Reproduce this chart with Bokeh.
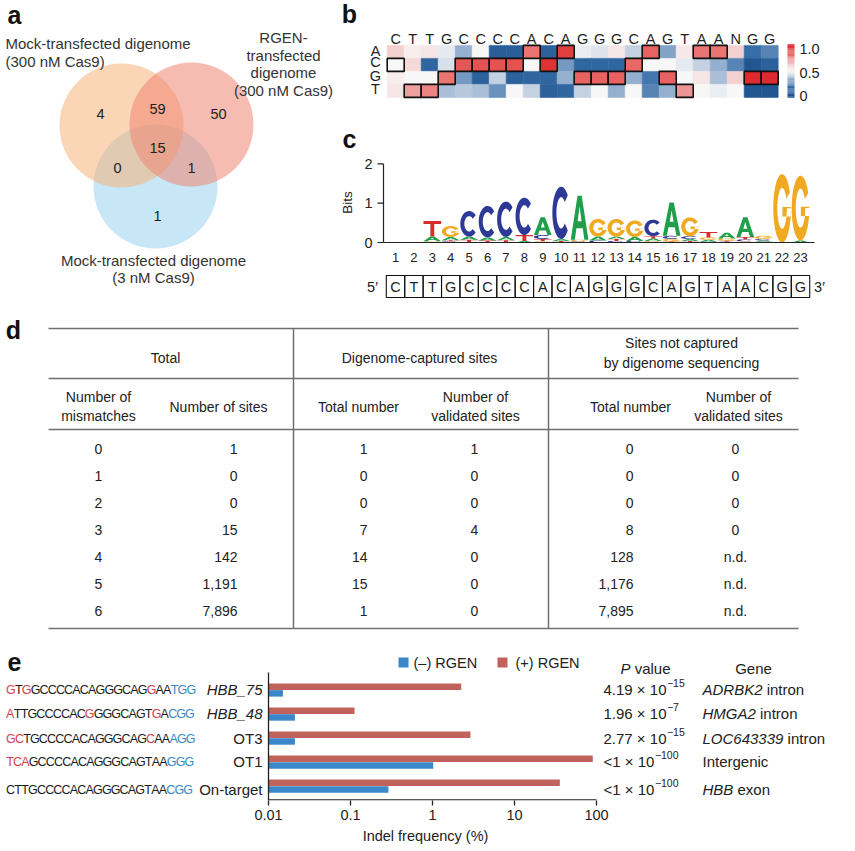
import numpy as np
from bokeh.plotting import figure
from bokeh.models import (Range1d, LogScale, LogAxis, FixedTicker,
                          CustomJSTickFormatter, LinearColorMapper, ColumnDataSource)
from bokeh.core.properties import value
from bokeh.transform import transform
from bokeh.embed import file_html
from bokeh.resources import INLINE

# ======================= DATA =======================
# panel a: Venn counts
venn_counts = [4, 59, 50, 15, 0, 1, 1]
venn_label_mock300 = ["Mock-transfected digenome", "(300 nM Cas9)"]
venn_label_rgen = ["RGEN-", "transfected", "digenome", "(300 nM Cas9)"]
venn_label_mock3 = ["Mock-transfected digenome", "(3 nM Cas9)"]

# panel b: heat map (fraction per base)
hm_cols = list("CTTGCCCCACAGGGCAGTAANGG")
hm_rows = ["A", "C", "G", "T"]
hm_A = [0.60, 0.53, 0.55, 0.47, 0.35, 0.50, 0.10, 0.10, 0.78, 0.12, 0.92, 0.48,
        0.46, 0.54, 0.42, 0.82, 0.32, 0.54, 0.78, 0.78, 0.60, 0.20, 0.25]
hm_C = [0.50, 0.58, 0.15, 0.45, 0.85, 0.86, 0.86, 0.86, 0.50, 0.95, 0.30, 0.15,
        0.15, 0.15, 0.80, 0.50, 0.50, 0.47, 0.42, 0.35, 0.25, 0.05, 0.12]
hm_G = [0.53, 0.50, 0.50, 0.78, 0.30, 0.12, 0.42, 0.12, 0.15, 0.15, 0.35, 0.82,
        0.82, 0.82, 0.35, 0.22, 0.82, 0.50, 0.55, 0.38, 0.60, 0.97, 0.97]
hm_T = [0.55, 0.70, 0.75, 0.38, 0.40, 0.38, 0.28, 0.50, 0.42, 0.12, 0.15, 0.42,
        0.50, 0.35, 0.50, 0.25, 0.35, 0.72, 0.50, 0.48, 0.50, 0.05, 0.05]
cb_labels = ["1.0", "0.5", "0"]

# panel c: sequence logo (bits per base)
logo_pos = list(range(1, 24))
bits_A = [0, 0, 0.12, 0.08, 0.08, 0.08, 0.08, 0.04, 0.45, 0.05, 1.12, 0.10,
          0.06, 0.10, 0.06, 0.85, 0.05, 0.05, 0.15, 0.50, 0.03, 0, 0.05]
bits_C = [0, 0, 0, 0.03, 0.65, 0.80, 0.90, 0.95, 0.10, 1.33, 0.03, 0.05,
          0.04, 0.04, 0.42, 0.08, 0.07, 0.02, 0.02, 0.05, 0.04, 0, 0]
bits_G = [0, 0, 0.03, 0.28, 0, 0, 0, 0, 0.03, 0, 0.04, 0.45,
          0.45, 0.42, 0.04, 0.06, 0.48, 0.06, 0.05, 0.03, 0.08, 1.74, 1.65]
bits_T = [0, 0, 0.40, 0.03, 0.07, 0.05, 0.06, 0.15, 0.06, 0.04, 0, 0,
          0.05, 0, 0.06, 0.03, 0.04, 0.14, 0.03, 0.06, 0.02, 0, 0]
target_seq = list("CTTGCCCCACAGGGCAGTAACGG")

# panel d: table
tbl_mismatch = ["0", "1", "2", "3", "4", "5", "6"]
tbl_sites = ["1", "0", "0", "15", "142", "1,191", "7,896"]
tbl_cap_total = ["1", "0", "0", "7", "14", "15", "1"]
tbl_cap_valid = ["1", "0", "0", "4", "0", "0", "0"]
tbl_nc_total = ["0", "0", "0", "8", "128", "1,176", "7,895"]
tbl_nc_valid = ["0", "0", "0", "0", "n.d.", "n.d.", "n.d."]

# panel e: indel frequencies
e_seqs = ["GTGGCCCCACAGGGCAGGAATGG", "ATTGCCCCACGGGGCAGTGACGG",
          "GCTGCCCCACAGGGCAGCAAAGG", "TCAGCCCCACAGGGCAGTAAGGG",
          "CTTGCCCCACAGGGCAGTAACGG"]
e_names = ["HBB_75", "HBB_48", "OT3", "OT1", "On-target"]
e_name_italic = [True, True, False, False, False]
indel_minus = [0.015, 0.021, 0.021, 1.02, 0.29]
indel_plus = [2.24, 0.112, 2.9, 90.0, 35.7]
pv_mant = ["4.19 \u00d7 10", "1.96 \u00d7 10", "2.77 \u00d7 10", "<1 \u00d7 10", "<1 \u00d7 10"]
pv_exp = ["\u221215", "\u22127", "\u221215", "\u2212100", "\u2212100"]
gene_it = ["ADRBK2", "HMGA2", "LOC643339", "", "HBB"]
gene_rest = ["intron", "intron", "intron", "Intergenic", "exon"]
e_ticks = [0.01, 0.1, 1, 10, 100]

# ======================= LAYOUT =======================
FONT = "Liberation Sans"
W, H = 850, 849
FL, FR, FT, FB = 0, W, 0, 800          # frame edges in page pixels

p = figure(width=W, height=H, output_backend="svg", toolbar_location=None,
           x_range=Range1d(FL, FR), y_range=Range1d(FB, FT),
           x_axis_type=None, y_axis_type=None,
           min_border_left=0, min_border_right=0, min_border_top=0,
           min_border_bottom=H - (FB - FT))
p.outline_line_color = None
p.background_fill_color = "white"
p.border_fill_color = "white"


def xr(v0, p0, v1, p1):
    s = (v1 - v0) / (p1 - p0)
    return Range1d(v0 + (FL - p0) * s, v0 + (FR - p0) * s)


def yr(v0, p0, v1, p1):
    s = (v1 - v0) / (p1 - p0)
    return Range1d(v0 + (FB - p0) * s, v0 + (FT - p0) * s)


ls = 4 / (596 - 268)
p.extra_x_ranges = {
    "hm": xr(1, 395.2, 23, 769.2),
    "pos": xr(1, 395.0, 23, 800.0),
    "log": Range1d(10 ** (-2 + (FL - 268) * ls), 10 ** (-2 + (FR - 268) * ls)),
}
p.extra_x_scales = {"log": LogScale()}
p.extra_y_ranges = {
    "hmr": yr(0, 51.4, 3, 90.4),
    "cb": yr(0, 96.7, 1, 44.3),
    "bits": yr(0, 242.0, 2, 163.4),
    "trow": yr(0, 448.0, 6, 610.0),
    "erow": yr(0, 689.5, 4, 785.7),
}

TXT = "#222222"


def txt(x, y, s, size=14, align="center", baseline="middle", style="normal",
        color=TXT, font=FONT, angle=0.0, xrn=None, yrn=None):
    s = list(s)
    n = len(s)
    x = list(x) if isinstance(x, (list, tuple, np.ndarray)) else [x] * n
    y = list(y) if isinstance(y, (list, tuple, np.ndarray)) else [y] * n
    kw = {}
    if xrn:
        kw["x_range_name"] = xrn
    if yrn:
        kw["y_range_name"] = yrn
    col = list(color) if isinstance(color, list) else value(color)
    p.text(x=x, y=y, text=s, text_font=value(font),
           text_font_size=value(f"{size}px"), text_align=align,
           text_baseline=baseline, text_font_style=style, text_color=col,
           angle=angle, **kw)


AW = {' ': 278, '.': 278, '\u00d7': 584, '<': 584, '\u2212': 584, '_': 556, '-': 333,
      'A': 667, 'B': 667, 'C': 722, 'D': 722, 'E': 667, 'G': 778, 'H': 722, 'I': 278,
      'K': 667, 'L': 556, 'M': 833, 'N': 722, 'O': 778, 'P': 667, 'R': 722, 'S': 667,
      'T': 611, 'a': 556, 'b': 556, 'c': 500, 'd': 556, 'e': 556, 'g': 556, 'i': 222,
      'l': 222, 'n': 556, 'o': 556, 'r': 333, 't': 278, 'u': 556, 'v': 500, 'x': 500}


def tw(s, size):
    return sum(AW.get(c, 556) for c in s) / 1000 * size


# panel letters
txt([14, 349, 349, 13, 14], [14, 13, 138, 329, 661], ["a", "b", "c", "d", "e"],
    size=25, style="bold", color="#111111")

# ======================= PANEL A =======================
p.circle(x=[155, 121, 191], y=[186, 125, 124], radius=62,
         fill_color=["#8fd0f0", "#f5b27a", "#ef8571"],
         fill_alpha=[0.5, 0.55, 0.55], line_color=None)
txt([100, 157, 218, 157, 117, 191, 157], [113, 108, 113, 147, 167, 167, 215],
    [str(v) for v in venn_counts], size=14.5)
txt(5, [43, 61], venn_label_mock300, size=15, align="left", color="#333333")
txt(283, [37, 54.5, 72, 89.5], venn_label_rgen, size=15, color="#333333")
txt(153, [260, 277], venn_label_mock3, size=15, color="#333333")

# ======================= PANEL B =======================
stops = [(0.0, (28, 78, 138)), (0.2, (55, 110, 168)), (0.35, (150, 176, 206)),
         (0.5, (248, 248, 248)), (0.65, (242, 190, 190)), (0.8, (232, 105, 102)),
         (1.0, (222, 32, 38))]
pal = []
for t in np.linspace(0, 1, 256):
    for (a, ca), (b, cb) in zip(stops[:-1], stops[1:]):
        if a <= t <= b:
            f = (t - a) / (b - a)
            c = [int(round(ca[k] + f * (cb[k] - ca[k]))) for k in range(3)]
            pal.append("#%02x%02x%02x" % tuple(c))
            break
mapper = LinearColorMapper(palette=pal, low=0, high=1)

hm_x, hm_y, hm_v = [], [], []
for r, vals in enumerate([hm_A, hm_C, hm_G, hm_T]):
    for j, v in enumerate(vals):
        hm_x.append(j + 1)
        hm_y.append(r)
        hm_v.append(v)
hsrc = ColumnDataSource(dict(x=hm_x, y=hm_y, v=hm_v))
p.rect(x="x", y="y", width=1, height=1, source=hsrc, x_range_name="hm", y_range_name="hmr",
       fill_color=transform("v", mapper), line_color=transform("v", mapper), line_width=0.6)
ox, oy = [], []
for j, c in enumerate(hm_cols):
    if c in hm_rows:
        ox.append(j + 1)
        oy.append(hm_rows.index(c))
p.rect(x=ox, y=oy, width=1, height=1, x_range_name="hm", y_range_name="hmr",
       fill_color=None, line_color="#111111", line_width=1.6)
txt(list(range(1, 24)), -1.03, hm_cols, size=14.5, xrn="hm", yrn="hmr")
txt(375, [-0.1, 0.8, 1.82, 2.82], hm_rows, size=14.5, yrn="hmr")

cb_v = list(np.linspace(0, 1, 60))
p.rect(x=790.5, y="y", width=7, height=1 / 59 * 1.05,
       y_range_name="cb", fill_color=transform("v", mapper), line_color=None,
       source=ColumnDataSource(dict(y=cb_v, v=cb_v)))
txt(799, [48, 72, 95], cb_labels, size=14.5, align="left")

# ======================= PANEL C =======================
def ring(a0, a1, rxo=0.5, ryo=0.5, rxi=0.27, ryi=0.3, n=36):
    th = np.radians(np.linspace(a0, a1, n))
    xo = 0.5 + rxo * np.cos(th)
    yo = 0.5 + ryo * np.sin(th)
    xi = 0.5 + rxi * np.cos(th[::-1])
    yi = 0.5 + ryi * np.sin(th[::-1])
    return list(np.r_[xo, xi]), list(np.r_[yo, yi])


SHAPES = {
    "A": [[([0, 0.38, 0.62, 1, 0.77, 0.68, 0.32, 0.23], [0, 1, 1, 0, 0, 0.26, 0.26, 0]),
           ([0.39, 0.61, 0.5], [0.42, 0.42, 0.76])]],
    "C": [[ring(42, 318)]],
    "G": [[ring(28, 360)], [([0.52, 1.0, 1.0, 0.52], [0.52, 0.52, 0.38, 0.38])]],
    "T": [[([0, 1, 1, 0.61, 0.61, 0.39, 0.39, 0], [1, 1, 0.8, 0.8, 0, 0, 0.8, 0.8])]],
}
LCOL = {"A": "#1f9e4b", "C": "#2c3996", "G": "#f0aa22", "T": "#d62e2a"}
mx, my, mc = [], [], []
bits = {"A": bits_A, "C": bits_C, "G": bits_G, "T": bits_T}
for i, pos in enumerate(logo_pos):
    stack = sorted([(bits[b][i], b) for b in "ACGT" if bits[b][i] > 0.005])
    base = 0.0
    for h, b in stack:
        polys = []
        for poly in SHAPES[b]:
            rings = []
            for (ux, uy) in poly:
                rings.append(([pos - 0.48 + u * 0.96 for u in ux], [base + v * h for v in uy]))
            polys.append(rings)
        mx.append([[r[0] for r in pl] for pl in polys])
        my.append([[r[1] for r in pl] for pl in polys])
        mc.append(LCOL[b])
        base += h
p.multi_polygons(xs=mx, ys=my, fill_color=mc, line_color=None,
                 x_range_name="pos", y_range_name="bits")
# logo axes
p.segment(x0=[383], y0=[0], x1=[383], y1=[2], y_range_name="bits", line_color="#222222", line_width=1.2)
p.segment(x0=[377, 377, 377], y0=[0, 1, 2], x1=[383, 383, 383], y1=[0, 1, 2],
          y_range_name="bits", line_color="#222222", line_width=1.2)
p.segment(x0=[383], y0=[0], x1=[814], y1=[0], y_range_name="bits", line_color="#222222", line_width=1.2)
txt(372, [0, 1, 2], ["0", "1", "2"], size=14.5, align="right", yrn="bits")
txt(347, 202, ["Bits"], size=13.5, angle=np.pi / 2)
txt(logo_pos, 257, [str(v) for v in logo_pos], size=13, xrn="pos")
p.rect(x=logo_pos, y=[286] * 23, width=1, height=22, x_range_name="pos",
       fill_color=None, line_color="#111111", line_width=1.1)
txt(logo_pos, 286.5, target_seq, size=14.5, xrn="pos")
txt([372, 819], 286.5, ["5\u2032", "3\u2032"], size=14.5)

# ======================= PANEL D =======================
LC = "#707070"
p.segment(x0=[48, 48, 48, 48], y0=[328, 378, 429, 628], x1=[798] * 4, y1=[328, 378, 429, 628],
          line_color=LC, line_width=1.5)
p.segment(x0=[293, 548], y0=[328, 328], x1=[293, 548], y1=[628, 628], line_color=LC, line_width=1.5)
TS = 14
txt([165, 419], 357, ["Total", "Digenome-captured sites"], size=TS)
txt(681, [342, 362], ["Sites not captured", "by digenome sequencing"], size=TS)
txt([98, 475, 738], 396, ["Number of"] * 3, size=TS)
txt([98, 475, 738], 415, ["mismatches", "validated sites", "validated sites"], size=TS)
txt([218, 358, 630], 406, ["Number of sites", "Total number", "Total number"], size=TS)
rows = list(range(7))
txt(98, rows, tbl_mismatch, size=TS, yrn="trow")
txt(237, rows, tbl_sites, size=TS, align="right", yrn="trow")
txt(367, rows, tbl_cap_total, size=TS, align="right", yrn="trow")
txt(474, rows, tbl_cap_valid, size=TS, yrn="trow")
txt(633, rows, tbl_nc_total, size=TS, align="right", yrn="trow")
txt(735, rows, tbl_nc_valid, size=TS, yrn="trow")

# ======================= PANEL E =======================
RED, BLUE = "#c1625d", "#3b87c9"
e_rows = list(range(5))
label_y = [689, 713, 738, 761, 789]
p.hbar(y=[r - 0.14 for r in e_rows], left=0.01, right=indel_plus, height=0.27,
       fill_color=RED, line_color=None, x_range_name="log", y_range_name="erow")
p.hbar(y=[r + 0.14 for r in e_rows], left=0.01, right=indel_minus, height=0.27,
       fill_color=BLUE, line_color=None, x_range_name="log", y_range_name="erow")
p.segment(x0=[0.01], y0=[672], x1=[0.01], y1=[800], x_range_name="log", line_color="#222222", line_width=1.3)
p.segment(x0=[0.01], y0=[799.4], x1=[100], y1=[799.4], x_range_name="log", line_color="#222222", line_width=1.3)

ax = LogAxis(x_range_name="log", ticker=FixedTicker(ticks=e_ticks, minor_ticks=[]),
             formatter=CustomJSTickFormatter(code="return String(tick);"),
             axis_label="Indel frequency (%)")
ax.axis_line_color = None
ax.major_tick_line_color = "#222222"
ax.major_tick_line_width = 1.3
ax.major_tick_out = 5
ax.major_tick_in = 0
ax.minor_tick_line_color = None
ax.major_label_text_font = FONT
ax.major_label_text_font_size = "14.5px"
ax.major_label_text_color = TXT
ax.major_label_standoff = 4
ax.axis_label_text_font = FONT
ax.axis_label_text_font_size = "14.5px"
ax.axis_label_text_font_style = "normal"
ax.axis_label_text_color = TXT
ax.axis_label_standoff = 5
p.add_layout(ax, "below")

# legend
p.rect(x=[403, 502], y=[662, 662], width=10, height=10, fill_color=[BLUE, RED], line_color=None)
txt([413, 515], 662, ["(\u2013) RGEN", "(+) RGEN"], size=14.5, align="left")

# sequences, per character
on_target = e_seqs[-1]
em_px = 186 / (sum(AW[c] for c in on_target) / 1000)
cx, cy, cs, cc = [], [], [], []
for r, s in enumerate(e_seqs):
    cum = 0
    for i, ch in enumerate(s):
        w = AW[ch]
        cx.append(6 + (cum + w / 2) / 1000 * em_px)
        cy.append(label_y[r])
        cs.append(ch)
        if i >= 20:
            cc.append("#3a87c5")
        elif ch != on_target[i]:
            cc.append("#d2404c")
        else:
            cc.append("#1a1a1a")
        cum += w
txt(cx, cy, cs, size=12.5, color=cc)

for r in e_rows:
    txt(262, label_y[r], [e_names[r]], size=15, align="right",
        style="italic" if e_name_italic[r] else "normal")

# P values and genes
txt(620, 668, ["P"], size=15, align="left", style="italic")
txt(620 + tw("P ", 15), 668, ["value"], size=15, align="left")
txt(753, 668, ["Gene"], size=15)
for r in e_rows:
    txt(603, label_y[r], [pv_mant[r]], size=15, align="left")
    txt(603 + tw(pv_mant[r], 15) + 0.5, label_y[r] - 7, [pv_exp[r]], size=10.5, align="left")
    x0 = 702
    if gene_it[r]:
        txt(x0, label_y[r], [gene_it[r]], size=15, align="left", style="italic")
        x0 += tw(gene_it[r] + " ", 15)
    txt(x0, label_y[r], [gene_rest[r]], size=15, align="left")

open("out.html", "w").write(file_html(p, INLINE))
